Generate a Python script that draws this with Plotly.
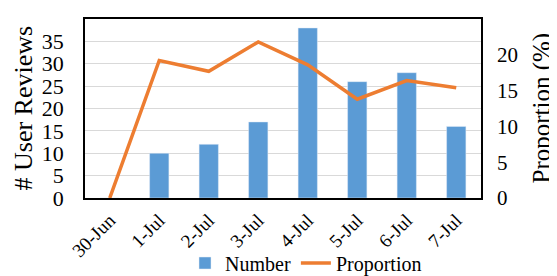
import plotly.graph_objects as go

dates = ["30-Jun", "1-Jul", "2-Jul", "3-Jul", "4-Jul", "5-Jul", "6-Jul", "7-Jul"]
numbers = [0, 10, 12, 17, 38, 26, 28, 16]
proportion = [0, 19.2, 17.7, 21.8, 18.6, 13.8, 16.4, 15.4]
left_title = "# User Reviews"
right_title = "Proportion (%)"

FONT = "Liberation Serif, Times New Roman, serif"

def f(size):
    return dict(family=FONT, size=size, color="black")

# the page body adds an 8px offset, so the figure is sized to fit the window
W, H = 549, 268
ML, MR, MT, MB = 77, 76, 11, 78
PW = W - ML - MR

fig = go.Figure()
fig.add_trace(go.Bar(x=dates, y=numbers, name="Number", marker=dict(color="#5B9BD5"),
                     width=0.39, yaxis="y"))
fig.add_trace(go.Scatter(x=dates, y=proportion, name="Proportion", mode="lines",
                         line=dict(color="#ED7D31", width=3.5), yaxis="y2"))

fig.update_layout(
    width=W, height=H,
    margin=dict(l=ML, r=MR, t=MT, b=MB),
    plot_bgcolor="white", paper_bgcolor="white",
    font=f(20),
    showlegend=True,
    legend=dict(orientation="h", x=298 / W, xanchor="center", xref="container",
                y=1 - 255 / H, yanchor="middle", yref="container",
                font=f(20), bgcolor="rgba(0,0,0,0)", tracegroupgap=0,
                itemwidth=30),
    xaxis=dict(type="category", tickangle=-45, showline=True, linecolor="black", linewidth=1.5,
               mirror=True, tickfont=f(19), showgrid=False, ticks="", automargin=False,
               ticklabelstandoff=2),
    yaxis=dict(range=[0, 40], dtick=5, showline=True, linecolor="black", linewidth=1.5,
               mirror=True, gridcolor="#D9D9D9", gridwidth=1, tickfont=f(22),
               ticklabelstandoff=15, zeroline=False, automargin=False),
    yaxis2=dict(range=[0, 25], dtick=5, overlaying="y", side="right", showgrid=False,
                tickfont=f(21), ticklabelstandoff=15, zeroline=False, automargin=False),
    annotations=[
        dict(text=left_title, xref="paper", yref="paper", x=(15 - ML) / PW, y=0.5,
             xanchor="center", yanchor="middle", textangle=-90, showarrow=False, font=f(26)),
        dict(text=right_title, xref="paper", yref="paper", x=(533 - ML) / PW, y=0.5,
             xanchor="center", yanchor="middle", textangle=-90, showarrow=False, font=f(25)),
    ],
)

fig.write_html("out.html")
